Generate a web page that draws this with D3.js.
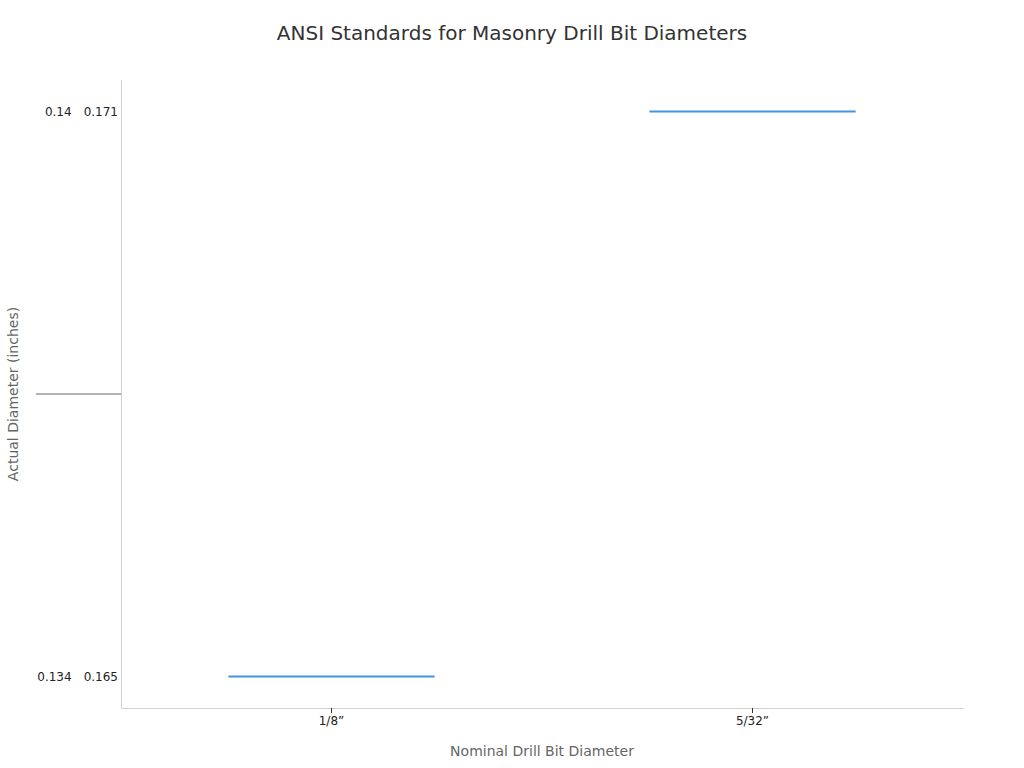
<!DOCTYPE html>
<html>
<head>
<meta charset="utf-8">
<script src="https://cdn.jsdelivr.net/npm/d3@7"></script>
<style>
  html, body { margin: 0; padding: 0; background: #fff; }
  svg { display: block; font-family: "DejaVu Sans", sans-serif; }
</style>
</head>
<body>
<svg id="chart" width="1024" height="768"></svg>
<script>
const categories = ["1/8\u201d", "5/32\u201d"];
const minDiameters = [0.134, 0.14];
const maxDiameters = [0.165, 0.171];
const title = "ANSI Standards for Masonry Drill Bit Diameters";
const xTitle = "Nominal Drill Bit Diameter";
const yTitle = "Actual Diameter (inches)";

const rangeLabels = minDiameters.map((m, i) => m + "\u2003" + maxDiameters[i]);

const svg = d3.select("#chart");
const margin = { top: 80, right: 61, bottom: 60, left: 121 };
const W = 1024, H = 768;
const iw = W - margin.left - margin.right;
const ih = H - margin.top - margin.bottom;

const g = svg.append("g").attr("transform", `translate(${margin.left},${margin.top})`);

const x = d3.scaleBand().domain(categories).range([0, iw]).padding(0);
const y = d3.scalePoint().domain([rangeLabels[1], rangeLabels[0]]).range([0, ih]).padding(0.0558);

// X axis
const xAxis = g.append("g")
  .attr("transform", `translate(0,${ih})`)
  .call(d3.axisBottom(x).tickSize(5).tickPadding(3).tickSizeOuter(0));
xAxis.attr("font-family", "DejaVu Sans, sans-serif").attr("font-size", 12);
xAxis.select(".domain").attr("stroke", "#d0d0d0");
xAxis.selectAll(".tick line").attr("stroke", "#333");
xAxis.selectAll(".tick text").attr("fill", "#222");

// Y axis
const yAxis = g.append("g")
  .call(d3.axisLeft(y).tickSize(0).tickPadding(3).tickSizeOuter(0));
yAxis.attr("font-family", "DejaVu Sans, sans-serif").attr("font-size", 12);
yAxis.select(".domain").attr("stroke", "#d0d0d0");
yAxis.selectAll(".tick text").attr("fill", "#222");

// middle reference tick on y axis
const yMid = (y(rangeLabels[0]) + y(rangeLabels[1])) / 2;
g.append("line")
  .attr("x1", -85).attr("x2", 0)
  .attr("y1", yMid).attr("y2", yMid)
  .attr("stroke", "#999").attr("stroke-width", 1.5);

// Segments
const data = categories.map((c, i) => ({ cat: c, label: rangeLabels[i] }));
g.selectAll(".seg").data(data).enter().append("line")
  .attr("class", "seg")
  .attr("x1", d => x(d.cat) + x.bandwidth() / 2 - x.bandwidth() * 0.245)
  .attr("x2", d => x(d.cat) + x.bandwidth() / 2 + x.bandwidth() * 0.245)
  .attr("y1", d => y(d.label))
  .attr("y2", d => y(d.label))
  .attr("stroke", "#4394e5")
  .attr("stroke-width", 2);

// Titles
svg.append("text")
  .attr("x", 512).attr("y", 40)
  .attr("text-anchor", "middle")
  .attr("fill", "#333")
  .style("font-size", "20px")
  .text(title);

svg.append("text")
  .attr("x", margin.left + iw / 2).attr("y", 756)
  .attr("text-anchor", "middle")
  .attr("fill", "#666")
  .style("font-size", "14px")
  .text(xTitle);

svg.append("text")
  .attr("transform", `translate(18,${margin.top + yMid}) rotate(-90)`)
  .attr("text-anchor", "middle")
  .attr("fill", "#666")
  .style("font-size", "14px")
  .text(yTitle);
</script>
</body>
</html>
